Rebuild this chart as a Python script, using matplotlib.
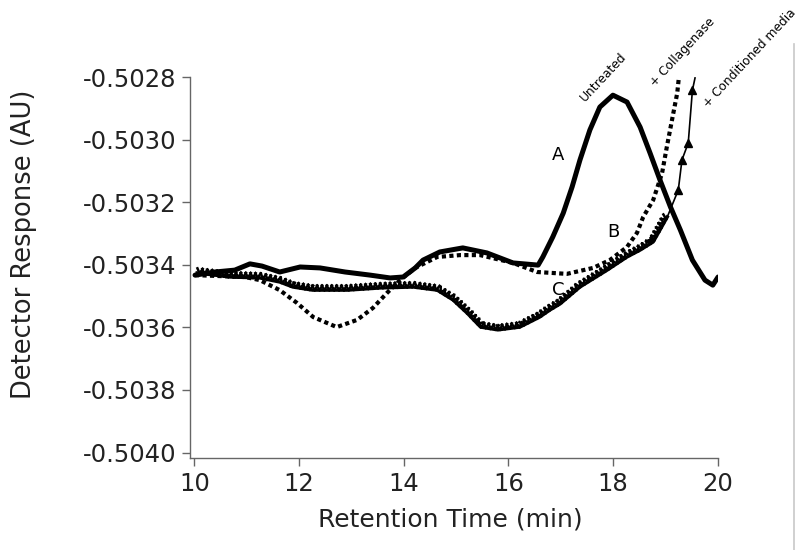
import numpy as np
import matplotlib
matplotlib.use("Agg")
import matplotlib.pyplot as plt
import matplotlib.patheffects as pe
from matplotlib.ticker import FixedLocator, FormatStrFormatter
from matplotlib.lines import Line2D

plt.rcParams['font.family'] = ['DejaVu Sans']
plt.rcParams['axes.unicode_minus'] = False

# A - untreated (thick solid)
a_time = [10.01, 10.39, 10.77, 11.06, 11.29, 11.63, 12.02, 12.40, 12.88, 13.36,
          13.74, 13.99, 14.22, 14.37, 14.69, 15.13, 15.59, 16.09, 16.57, 16.66,
          16.85, 17.05, 17.22, 17.37, 17.56, 17.75, 18.00, 18.27, 18.52, 18.71,
          18.90, 19.10, 19.29, 19.52, 19.76, 19.91, 20.01]
a_resp = [-0.503433, -0.503423, -0.503417, -0.503397, -0.503404, -0.503423, -0.503407,
          -0.503410, -0.503423, -0.503433, -0.503442, -0.503439, -0.503410, -0.503385,
          -0.503359, -0.503346, -0.503362, -0.503394, -0.503401, -0.503375, -0.503311,
          -0.503235, -0.503151, -0.503065, -0.502969, -0.502896, -0.502858, -0.502880,
          -0.502960, -0.503043, -0.503129, -0.503215, -0.503289, -0.503385, -0.503449,
          -0.503465, -0.503439]

# B - collagenase (dotted)
b_time = [10.01, 10.49, 10.97, 11.25, 11.63, 11.96, 12.27, 12.72, 13.11, 13.41,
          13.68, 13.93, 14.22, 14.64, 15.08, 15.46, 16.09, 16.55, 17.12, 17.62,
          17.94, 18.27, 18.46, 18.58, 18.77, 18.94, 19.03, 19.13, 19.23, 19.26]
b_resp = [-0.503433, -0.503436, -0.503439, -0.503449, -0.503481, -0.503522, -0.503567,
          -0.503599, -0.503576, -0.503538, -0.503490, -0.503449, -0.503410, -0.503375,
          -0.503369, -0.503369, -0.503394, -0.503423, -0.503429, -0.503410, -0.503385,
          -0.503343, -0.503298, -0.503247, -0.503193, -0.503107, -0.503024, -0.502937,
          -0.502851, -0.502803]

# C - conditioned media (triangles), dense part then sparse tail
c_time = [10.05, 10.68, 11.25, 11.63, 11.88, 12.26, 12.92, 13.55, 14.18, 14.64,
          14.94, 15.21, 15.47, 15.80, 16.22, 16.60, 16.80, 16.99, 17.37, 17.89,
          18.27, 18.52, 18.77, 18.90, 19.04]
c_resp = [-0.503426, -0.503439, -0.503442, -0.503455, -0.503471, -0.503481, -0.503481,
          -0.503474, -0.503471, -0.503481, -0.503512, -0.503554, -0.503599, -0.503608,
          -0.503599, -0.503567, -0.503544, -0.503525, -0.503471, -0.503417, -0.503375,
          -0.503353, -0.503327, -0.503289, -0.503247]
c_tail_time = [19.04, 19.25, 19.32, 19.44, 19.52, 19.57]
c_tail_resp = [-0.503247, -0.503161, -0.503065, -0.503011, -0.502842, -0.502803]

curve_letters = ["A", "B", "C"]
letter_x = [16.95, 18.00, 16.95]
letter_y = [-0.503049, -0.503295, -0.503481]

tag_text = ["Untreated", "+ Collagenase", "+ Conditioned media"]
tag_x = [17.81, 19.34, 20.62]
tag_y = [-0.502800, -0.502720, -0.502740]

y_ticks = [-0.5028, -0.5030, -0.5032, -0.5034, -0.5036, -0.5038, -0.5040]
x_ticks = [10, 12, 14, 16, 18, 20]

fig = plt.figure(figsize=(8, 5.5), dpi=100)
ax = fig.add_axes([0.2375, 0.16727, 0.6594, 0.6927])

ax.plot(a_time, a_resp, color='black', lw=3.6, solid_joinstyle='round', solid_capstyle='round')
ax.plot(b_time, b_resp, color='black', lw=3.0, linestyle=(0, (1, 0.8)), dash_capstyle='butt')
ax.plot(c_time, c_resp, color='black', lw=2.4, solid_joinstyle='round',
        path_effects=[pe.Stroke(),
                      pe.TickedStroke(spacing=3.5, angle=60, length=1.1, linewidth=1.8),
                      pe.TickedStroke(spacing=3.5, angle=120, length=1.1, linewidth=1.8)])
ax.plot(c_tail_time, c_tail_resp, color='black', lw=1.2, marker='^', ms=6, markevery=[1, 2, 3, 4])

for t, x, y in zip(curve_letters, letter_x, letter_y):
    ax.text(x, y, t, fontsize=13, ha='center', va='center')

for t, x, y in zip(tag_text, tag_x, tag_y):
    ax.text(x, y, t, fontsize=8.8, rotation=47, ha='center', va='center',
            rotation_mode='anchor', clip_on=False)

ax.set_xlim(9.914, 20.0)
ax.set_ylim(-0.5040173, -0.5028)
ax.xaxis.set_major_locator(FixedLocator(x_ticks))
ax.yaxis.set_major_locator(FixedLocator(y_ticks))
ax.yaxis.set_major_formatter(FormatStrFormatter('%.4f'))

for s in ['top', 'right']:
    ax.spines[s].set_visible(False)
for s in ['left', 'bottom']:
    ax.spines[s].set_color('#666666')
    ax.spines[s].set_linewidth(1.0)

ax.tick_params(direction='out', length=6, width=1, color='#666666',
               labelsize=17.5, labelcolor='#222222', pad=4)

ax.set_xlabel("Retention Time (min)", fontsize=18, color='#222222')
ax.set_ylabel("Detector Response (AU)", fontsize=18.5, color='#222222')
ax.xaxis.set_label_coords(0.493, -0.13)
ax.yaxis.set_label_coords(-0.29, 0.56)

# thin grey border line on the right of the original picture
fig.add_artist(Line2D([0.9925, 0.9925], [0.0, 0.92], transform=fig.transFigure,
                      color='#c8c8c8', lw=1.2))

fig.savefig("out.png", dpi=100)
